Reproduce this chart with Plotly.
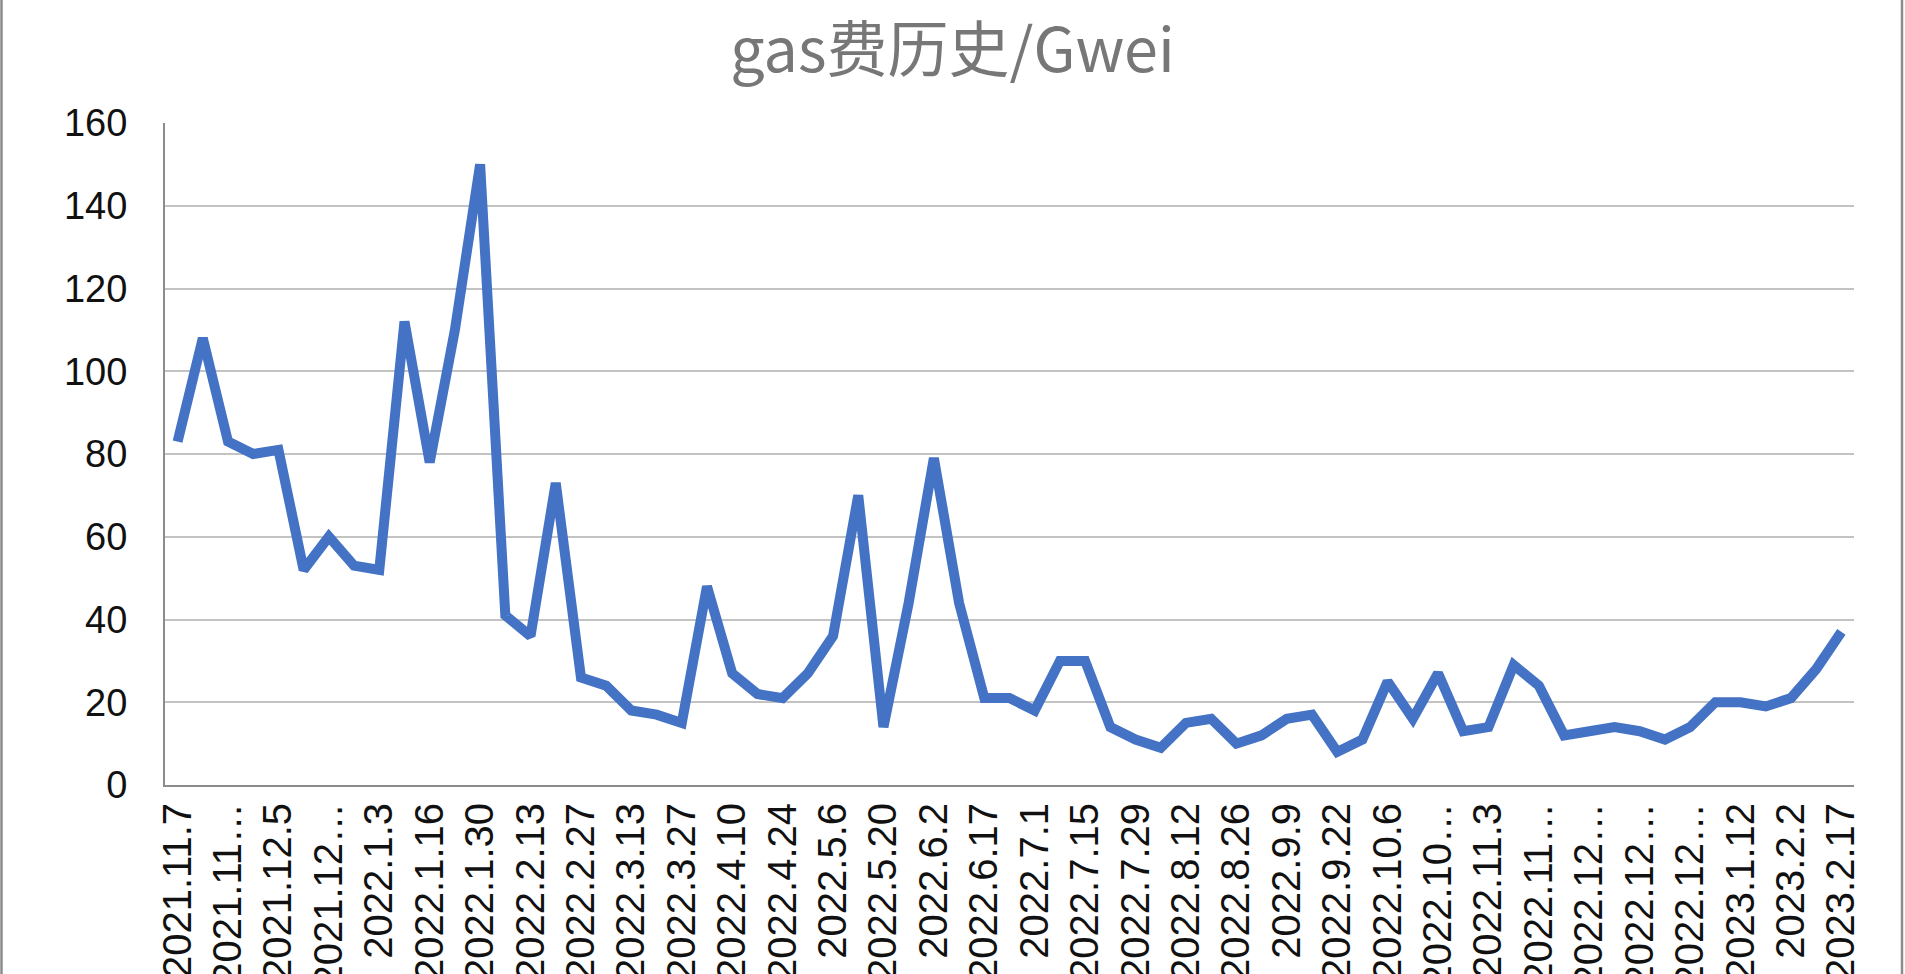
import plotly.graph_objects as go

# ---- data ----
dates = [
    "2021.11.7", "2021.11.14", "2021.11.21", "2021.11.28", "2021.12.5", "2021.12.12",
    "2021.12.19", "2021.12.26", "2022.1.3", "2022.1.9", "2022.1.16", "2022.1.23",
    "2022.1.30", "2022.2.6", "2022.2.13", "2022.2.20", "2022.2.27", "2022.3.6",
    "2022.3.13", "2022.3.20", "2022.3.27", "2022.4.3", "2022.4.10", "2022.4.17",
    "2022.4.24", "2022.4.30", "2022.5.6", "2022.5.13", "2022.5.20", "2022.5.27",
    "2022.6.2", "2022.6.10", "2022.6.17", "2022.6.24", "2022.7.1", "2022.7.8",
    "2022.7.15", "2022.7.22", "2022.7.29", "2022.8.5", "2022.8.12", "2022.8.19",
    "2022.8.26", "2022.9.2", "2022.9.9", "2022.9.16", "2022.9.22", "2022.9.29",
    "2022.10.6", "2022.10.13", "2022.10.20", "2022.10.27", "2022.11.3", "2022.11.10",
    "2022.11.17", "2022.11.24", "2022.12.1", "2022.12.8", "2022.12.15", "2022.12.22",
    "2022.12.29", "2023.1.5", "2023.1.12", "2023.1.19", "2023.2.2", "2023.2.9",
    "2023.2.17",
]

gas_gwei = [
    83, 108, 83, 80, 81, 52, 60, 53, 52, 112,
    78, 110, 150, 41, 36, 73, 26, 24, 18, 17,
    15, 48, 27, 22, 21, 27, 36, 70, 14, 44,
    79, 44, 21, 21, 18, 30, 30, 14, 11, 9,
    15, 16, 10, 12, 16, 17, 8, 11, 25, 16,
    27, 13, 14, 29, 24, 12, 13, 14, 13, 11,
    14, 20, 20, 19, 21, 28, 37,
]

# labels as displayed (every other category, Excel-truncated where long)
tick_labels = [
    "2021.11.7", "2021.11…", "2021.12.5", "2021.12…", "2022.1.3", "2022.1.16",
    "2022.1.30", "2022.2.13", "2022.2.27", "2022.3.13", "2022.3.27", "2022.4.10",
    "2022.4.24", "2022.5.6", "2022.5.20", "2022.6.2", "2022.6.17", "2022.7.1",
    "2022.7.15", "2022.7.29", "2022.8.12", "2022.8.26", "2022.9.9", "2022.9.22",
    "2022.10.6", "2022.10…", "2022.11.3", "2022.11…", "2022.12…", "2022.12…",
    "2022.12…", "2023.1.12", "2023.2.2", "2023.2.17",
]
tick_positions = dates[::2]

title_text = "gas费历史/Gwei"

# ---- figure ----
W, H = 1905, 974
ml, mr, mt, mb = 165, 51, 123, 189

fig = go.Figure()
fig.add_trace(go.Scatter(
    x=dates, y=gas_gwei, mode="lines",
    line=dict(color="#4472C4", width=10),
    hoverinfo="x+y", showlegend=False,
))

pw = W - ml - mr
ph = H - mt - mb

fig.update_layout(
    width=W, height=H,
    margin=dict(l=ml, r=mr, t=mt, b=mb, autoexpand=False),
    paper_bgcolor="white", plot_bgcolor="white",
    title=dict(
        text=title_text, x=0.5, xanchor="center",
        y=1 - 51 / H, yanchor="middle", yref="container",
        font=dict(family="Noto Sans CJK SC", size=61, color="#777777"),
    ),
    xaxis=dict(
        type="category", categoryorder="array", categoryarray=dates,
        range=[-0.5, len(dates) - 0.5],
        tickmode="array", tickvals=tick_positions, ticktext=tick_labels,
        tickangle=-90,
        tickfont=dict(family="Liberation Sans", size=40, color="#111111"),
        showgrid=False, showline=True, linecolor="#8c8c8c", linewidth=2,
        ticks="", zeroline=False,
    ),
    yaxis=dict(
        range=[0, 160], tickmode="array", tickvals=[0, 20, 40, 60, 80, 100, 120, 140, 160],
        tickfont=dict(family="Liberation Sans", size=38, color="#111111"),
        showgrid=True, gridcolor="#c3c3c3", gridwidth=1.5,
        showline=True, linecolor="#8c8c8c", linewidth=2,
        ticks="", ticklabelstandoff=28, zeroline=False,
    ),
    shapes=[
        dict(
            type="rect", xref="paper", yref="paper",
            x0=(1.5 - ml) / pw, x1=(1902 - ml) / pw,
            y0=-(H - mt - ph + 60) / ph, y1=1 + (mt + 2) / ph,
            line=dict(color="#8c8c8c", width=2.5), fillcolor="rgba(0,0,0,0)",
            layer="below",
        )
    ],
)

fig.write_html(
    "out.html",
    config={"displayModeBar": False},
    post_script="document.body.style.margin='0';",
)
